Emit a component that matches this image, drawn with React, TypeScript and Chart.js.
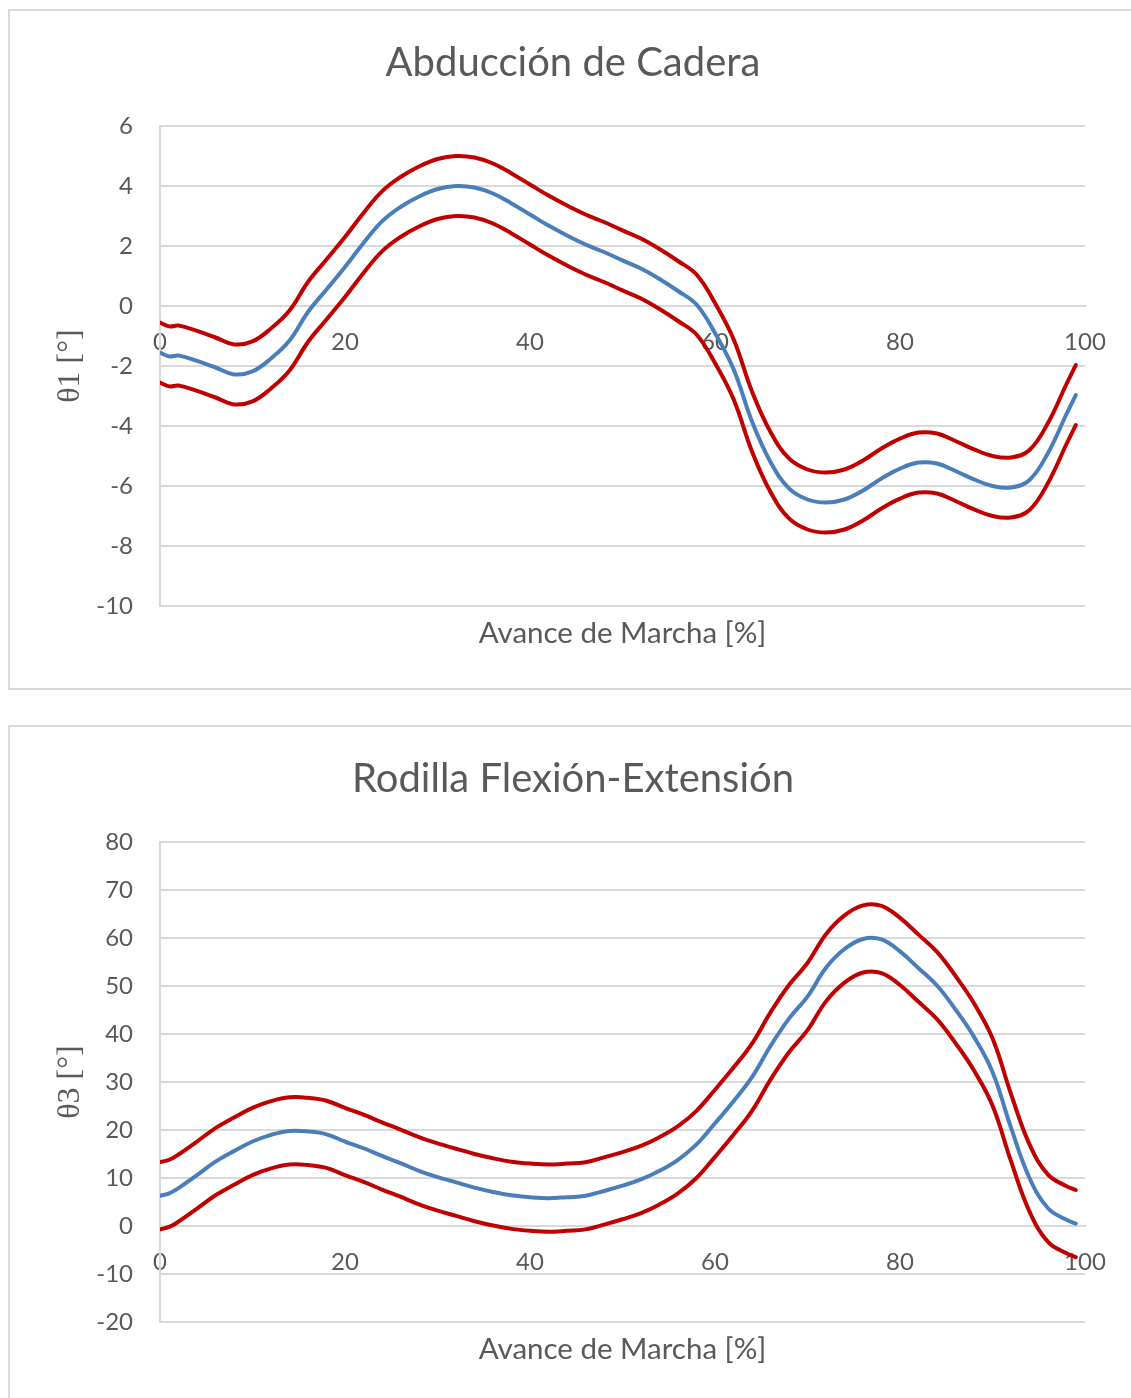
import React, { useEffect, useRef } from "react";
import { Chart, registerables } from "chart.js";

Chart.register(...registerables);

// Gait cycle progress [%]
const GAIT_PCT = [0, 1, 2, 4, 6, 8, 10, 12, 14, 16, 18, 20, 22, 24, 26, 28, 30, 32, 34, 36, 38, 40, 42, 44, 46, 48, 50, 52, 54, 56, 58, 60, 62, 64, 66, 68, 70, 72, 74, 76, 78, 80, 82, 84, 86, 88, 90, 92, 94, 96, 98, 99];

// Hip abduction θ1 [°]
const HIP_MEAN = [-1.55, -1.68, -1.65, -1.83, -2.05, -2.28, -2.18, -1.75, -1.15, -0.2, 0.55, 1.3, 2.1, 2.82, 3.3, 3.65, 3.9, 4.0, 3.95, 3.75, 3.42, 3.05, 2.68, 2.35, 2.05, 1.8, 1.52, 1.25, 0.9, 0.5, 0.05, -0.9, -2.1, -3.85, -5.2, -6.08, -6.45, -6.55, -6.45, -6.15, -5.75, -5.42, -5.22, -5.25, -5.5, -5.78, -6.0, -6.05, -5.8, -4.9, -3.6, -2.97];
const HIP_UPPER = [-0.55, -0.68, -0.65, -0.83, -1.05, -1.28, -1.18, -0.75, -0.15, 0.8, 1.55, 2.3, 3.1, 3.82, 4.3, 4.65, 4.9, 5.0, 4.95, 4.75, 4.42, 4.05, 3.68, 3.35, 3.05, 2.8, 2.52, 2.25, 1.9, 1.5, 1.05, 0.1, -1.1, -2.85, -4.2, -5.08, -5.45, -5.55, -5.45, -5.15, -4.75, -4.42, -4.22, -4.25, -4.5, -4.78, -5.0, -5.05, -4.8, -3.9, -2.6, -1.97];
const HIP_LOWER = [-2.55, -2.68, -2.65, -2.83, -3.05, -3.28, -3.18, -2.75, -2.15, -1.2, -0.45, 0.3, 1.1, 1.82, 2.3, 2.65, 2.9, 3.0, 2.95, 2.75, 2.42, 2.05, 1.68, 1.35, 1.05, 0.8, 0.52, 0.25, -0.1, -0.5, -0.95, -1.9, -3.1, -4.85, -6.2, -7.08, -7.45, -7.55, -7.45, -7.15, -6.75, -6.42, -6.22, -6.25, -6.5, -6.78, -7.0, -7.05, -6.8, -5.9, -4.6, -3.97];

// Knee flexion-extension θ3 [°]
const KNEE_MEAN = [6.3, 6.8, 7.9, 10.6, 13.4, 15.6, 17.6, 19.0, 19.8, 19.7, 19.1, 17.6, 16.2, 14.6, 13.1, 11.5, 10.2, 9.1, 8.0, 7.1, 6.4, 6.0, 5.8, 6.0, 6.3, 7.3, 8.4, 9.7, 11.5, 13.8, 17.0, 21.4, 26.0, 31.0, 37.5, 43.2, 47.8, 53.8, 57.7, 59.8, 59.7, 57.2, 53.7, 50.1, 45.1, 39.4, 32.1, 20.5, 10.0, 3.7, 1.3, 0.5];
const KNEE_UPPER = [13.3, 13.8, 14.9, 17.6, 20.4, 22.6, 24.6, 26.0, 26.8, 26.7, 26.1, 24.6, 23.2, 21.6, 20.1, 18.5, 17.2, 16.1, 15.0, 14.1, 13.4, 13.0, 12.8, 13.0, 13.3, 14.3, 15.4, 16.7, 18.5, 20.8, 24.0, 28.4, 33.0, 38.0, 44.5, 50.2, 54.8, 60.8, 64.7, 66.8, 66.7, 64.2, 60.7, 57.1, 52.1, 46.4, 39.1, 27.5, 17.0, 10.7, 8.3, 7.5];
const KNEE_LOWER = [-0.7, -0.2, 0.9, 3.6, 6.4, 8.6, 10.6, 12.0, 12.8, 12.7, 12.1, 10.6, 9.2, 7.6, 6.1, 4.5, 3.2, 2.1, 1.0, 0.1, -0.6, -1.0, -1.2, -1.0, -0.7, 0.3, 1.4, 2.7, 4.5, 6.8, 10.0, 14.4, 19.0, 24.0, 30.5, 36.2, 40.8, 46.8, 50.7, 52.8, 52.7, 50.2, 46.7, 43.1, 38.1, 32.4, 25.1, 13.5, 3.0, -3.3, -5.7, -6.5];

const X_TITLE = "Avance de Marcha [%]";
const TEXT = "#595959";
const GRID = "#d9d9d9";
const RED = "#c00000";
const BLUE = "#4a7ebb";
const FONT = "Lato, 'Open Sans', sans-serif";

type Props = {
  title: string;
  yTitle: string;
  min: number;
  max: number;
  step: number;
  mean: number[];
  upper: number[];
  lower: number[];
};

function GaitChart({ title, yTitle, min, max, step, mean, upper, lower }: Props) {
  const ref = useRef<HTMLCanvasElement | null>(null);
  useEffect(() => {
    if (!ref.current) return;
    const pts = (arr: number[]) => GAIT_PCT.map((x, i) => ({ x, y: arr[i] }));
    const line = (arr: number[], color: string) => ({
      data: pts(arr),
      borderColor: color,
      backgroundColor: color,
      borderWidth: 4,
      pointRadius: 0,
      fill: false,
      tension: 0.4,
      borderCapStyle: "round" as const,
      borderJoinStyle: "round" as const,
    });
    const chart = new Chart(ref.current, {
      type: "line",
      data: {
        datasets: [line(upper, RED), line(lower, RED), line(mean, BLUE)],
      },
      options: {
        responsive: false,
        animation: false,
        layout: { padding: { left: 51, right: 46, top: 0, bottom: 0 } },
        plugins: {
          legend: { display: false },
          tooltip: { enabled: false },
          title: {
            display: true,
            text: title,
            color: TEXT,
            font: { family: FONT, size: 40, weight: "normal" },
            padding: { top: 28, bottom: 39 },
          },
          subtitle: {
            display: true,
            position: "bottom",
            fullSize: false,
            text: X_TITLE,
            color: TEXT,
            font: { family: FONT, size: 29.5, weight: "normal" },
            padding: { top: 9.3, bottom: 36.3 },
          },
        },
        scales: {
          x: {
            type: "linear",
            min: 0,
            max: 100,
            position: { y: 0 } as any,
            ticks: {
              stepSize: 20,
              color: TEXT,
              font: { family: FONT, size: 24 },
              padding: 22,
              maxRotation: 0,
            },
            grid: { display: false, drawTicks: false },
            border: { color: GRID, width: 2 },
          },
          y: {
            min,
            max,
            ticks: {
              stepSize: step,
              color: TEXT,
              font: { family: FONT, size: 24 },
              padding: 27,
            },
            grid: { color: GRID, lineWidth: 2, drawTicks: false },
            border: { color: GRID, width: 2 },
            title: {
              display: true,
              text: yTitle,
              color: TEXT,
              font: { family: "'Liberation Serif', serif", size: 32, lineHeight: 1 },
              padding: { top: -6, bottom: 0 },
            },
            afterFit: (s: any) => {
              s.width = 99;
            },
          },
        },
      },
    });
    return () => chart.destroy();
  }, []);
  return <canvas ref={ref} width={1121} height={676} style={{ display: "block" }} />;
}

export default function App() {
  return (
    <div
      style={{
        position: "absolute",
        left: 0,
        top: 0,
        width: 1131,
        height: 1398,
        overflow: "hidden",
        background: "#ffffff",
      }}
    >
      <div
        style={{
          position: "absolute",
          left: 8,
          top: 9,
          width: 1140,
          height: 681,
          border: `2px solid ${GRID}`,
          boxSizing: "border-box",
          background: "#fff",
        }}
      >
        <GaitChart
          title="Abducción de Cadera"
          yTitle="θ1 [°]"
          min={-10}
          max={6}
          step={2}
          mean={HIP_MEAN}
          upper={HIP_UPPER}
          lower={HIP_LOWER}
        />
      </div>
      <div
        style={{
          position: "absolute",
          left: 8,
          top: 725,
          width: 1140,
          height: 720,
          border: `2px solid ${GRID}`,
          boxSizing: "border-box",
          background: "#fff",
        }}
      >
        <GaitChart
          title="Rodilla Flexión-Extensión"
          yTitle="θ3 [°]"
          min={-20}
          max={80}
          step={10}
          mean={KNEE_MEAN}
          upper={KNEE_UPPER}
          lower={KNEE_LOWER}
        />
      </div>
    </div>
  );
}
